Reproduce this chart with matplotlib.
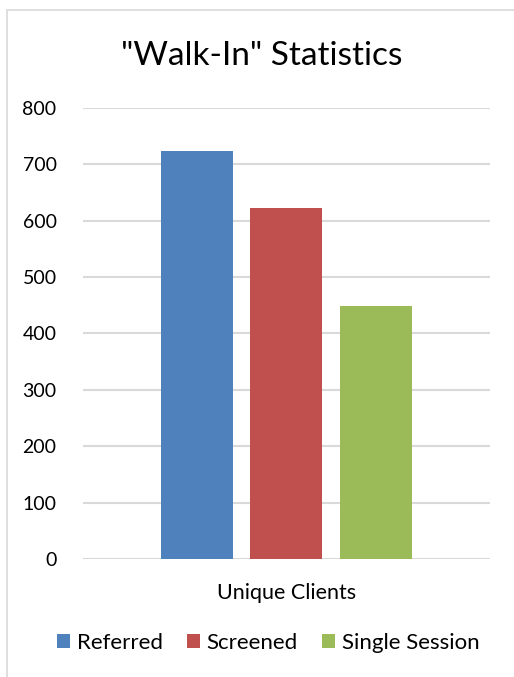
import matplotlib.pyplot as plt
from matplotlib.patches import Rectangle

categories = ["Unique Clients"]
series = ["Referred", "Screened", "Single Session"]
values = [724, 623, 448]
colors = ["#4f81bd", "#c0504d", "#9bbb59"]
yticks = [0, 100, 200, 300, 400, 500, 600, 700, 800]

plt.rcParams['font.family'] = ['Lato', 'DejaVu Sans']

fig = plt.figure(figsize=(5.14, 6.77), dpi=100)
ax = fig.add_axes([0.1615, 0.1743, 0.7915, 0.6662])

# chart frame, cut off at right and bottom
fig.patches.append(Rectangle((7 / 514, -0.1), 1.2, 1 - 10 / 677 + 0.1,
                             transform=fig.transFigure, fill=False,
                             edgecolor="#d9d9d9", linewidth=1.2))

width = 0.177
step = 0.221
for i, (name, v, c) in enumerate(zip(series, values, colors)):
    ax.bar((i - 1) * step, v, width=width, color=c, label=name, zorder=3)

ax.set_xlim(-0.5, 0.5)
ax.set_ylim(0, 800)
ax.set_yticks(yticks)
ax.set_xticks([0])
ax.set_xticklabels(categories, fontsize=15.5)
ax.yaxis.grid(True, color="#d9d9d9", linewidth=1.5, zorder=0)
ax.set_axisbelow(True)
for s in ax.spines.values():
    s.set_visible(False)
ax.tick_params(length=0, colors="black")
ax.tick_params(axis='y', pad=19, labelsize=14)
ax.tick_params(axis='x', pad=17)

fig.text(262 / 514, 1 - 56 / 677, '"Walk-In" Statistics', ha="center",
         va="center", fontsize=24)

ax.legend(loc="center", bbox_to_anchor=(0.5 - 0.045, (559 - 643) / 451),
          ncol=3, frameon=False, fontsize=16, handlelength=0.6,
          handleheight=0.6, handletextpad=0.3, columnspacing=1.08)

fig.savefig("out.png", dpi=100)
